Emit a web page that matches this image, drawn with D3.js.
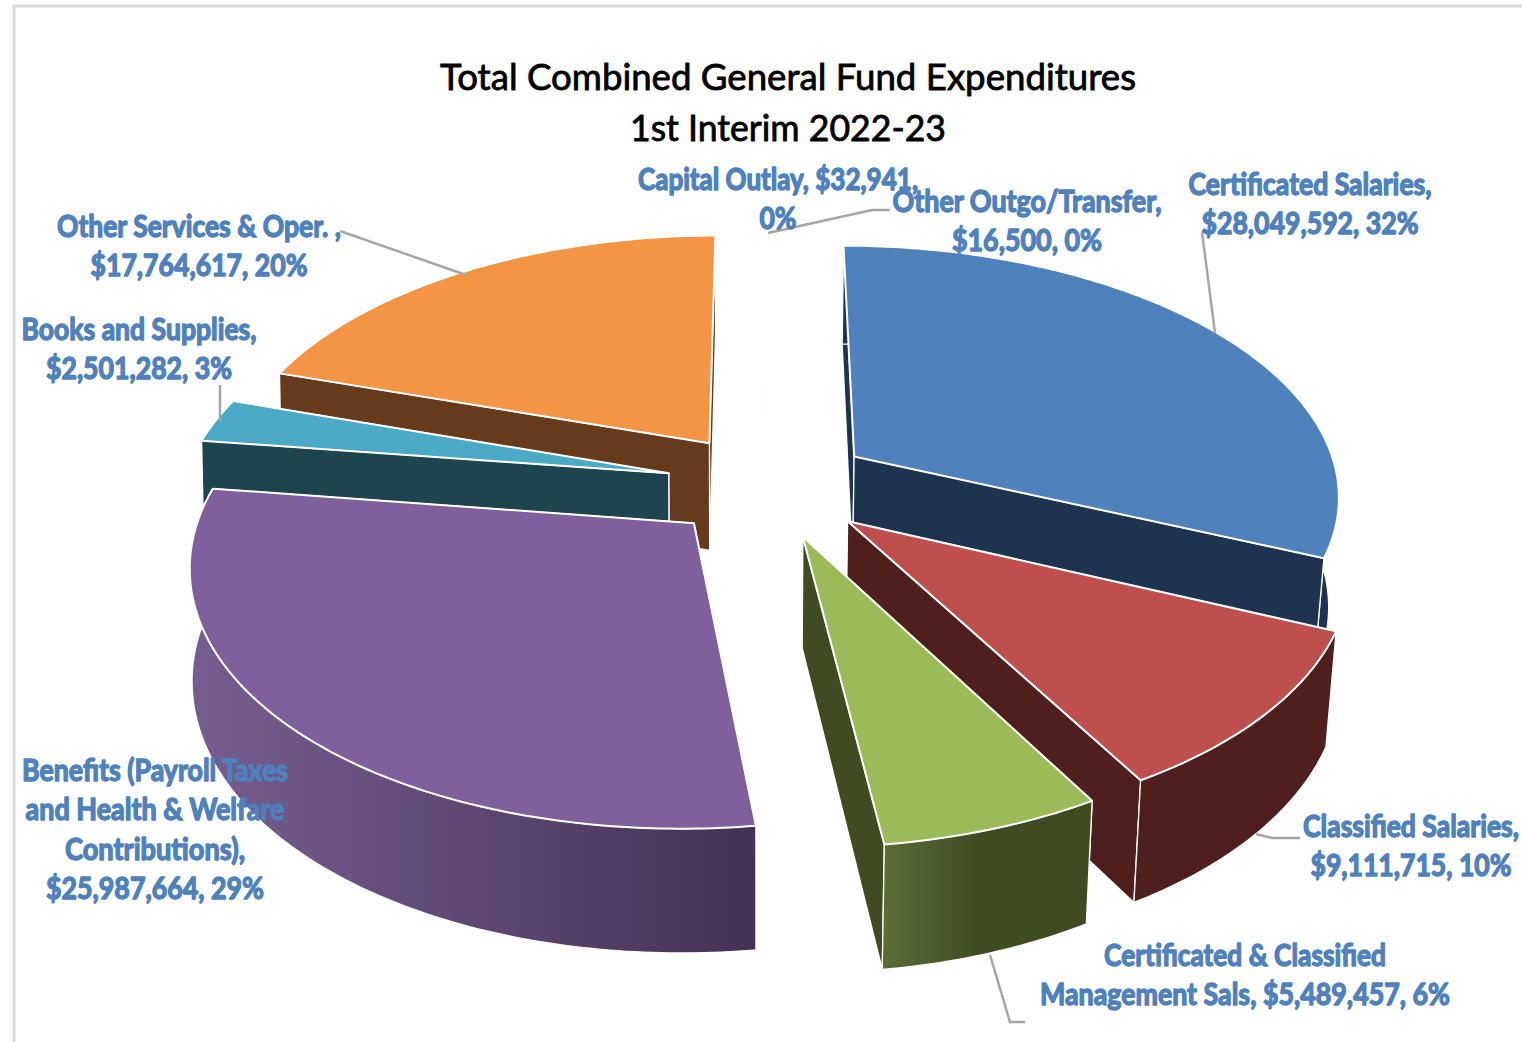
<!DOCTYPE html>
<html>
<head>
<meta charset="utf-8">
<style>
  html, body { margin: 0; padding: 0; background: #fff; }
  svg { display: block; }
  text { font-family: Lato, "Open Sans", sans-serif; paint-order: stroke; stroke-linejoin: round; }
</style>
<script src="https://cdn.jsdelivr.net/npm/d3@7/dist/d3.min.js"></script>
</head>
<body>
<svg id="chart" width="1522" height="1042"></svg>
<script>
// Budget categories, in the order they run clockwise around the pie
const categories = [
  "Certificated Salaries",
  "Classified Salaries",
  "Certificated & Classified Management Sals",
  "Benefits (Payroll Taxes and Health & Welfare Contributions)",
  "Books and Supplies",
  "Other Services & Oper. ",
  "Capital Outlay",
  "Other Outgo/Transfer"
];
const amounts = [28049592, 9111715, 5489457, 25987664, 2501282, 17764617, 32941, 16500];
const wordsPerLine = [[2, 2], [2, 2], [3, 4], [3, 4, 1, 2], [3, 2], [5, 2], [3, 1], [2, 2]];
const titleLines = ["Total Combined General Fund Expenditures", "1st Interim 2022-23"];

// Slice colours: top face, then the shaded side walls (left and right ends of the gradient)
const topColors = ["#4f81bd", "#bf4f4c", "#9bbb59", "#7f609c", "#4aa9c4", "#f39545", "#f39545", "#4f81bd"];
const wallLeft  = ["#1e3350", "#4f1f1e", "#5c6e36", "#775e92", "#1e444f", "#653b1c", "#653b1c", "#1e3350"];
const wallRight = ["#1e3350", "#4f1f1e", "#3f4c22", "#443253", "#1e444f", "#653b1c", "#653b1c", "#1e3350"];

// Label placement: centre x, first baseline, rendered width of each line
const labelX = [1310, 1411, 1245, 155, 139, 199, 778, 1027];
const labelY = [195, 837, 966, 781, 340, 237, 190, 212];
const labelWidths = [
  [243, 217], [216, 201], [282, 410], [266, 259, 180, 218],
  [235, 186], [284, 217], [280, 37], [269, 150]
];
const leaders = [
  [[1202, 232], [1215, 333]],
  [[1300, 838], [1272, 838], [1256, 834]],
  [[1025, 1022], [1010, 1022], [990, 955]],
  [[220, 385], [220, 421]],
  [[340, 231], [466, 275]],
  [[890, 210], [872, 210], [768, 233]]
];

// Perspective projection of the pie's ground plane on to the page
const view = {
  cx: 769, cy: 485, rx: 486, ry: 249, persp: 0.145,
  depth: 109, depthFalloff: 0.7, convergeRight: 0.982, convergeLeft: 0.996, explode: 0.213
};

const scale = y => 1 / (1 + view.persp * y);
const topPoint = ([x, y]) => [view.cx + view.rx * x * scale(y), view.cy - view.ry * y * scale(y)];
const basePoint = ([x, y]) => {
  const [sx, sy] = topPoint([x, y]);
  const q = sx > view.cx ? view.convergeRight : view.convergeLeft;
  return [view.cx + (sx - view.cx) * q, sy + view.depth * (1 + view.depthFalloff * (scale(y) - 1))];
};

const svg = d3.select("#chart");
const defs = svg.append("defs");
const line = d3.line();
const closed = pts => line(pts) + "Z";

// Frame along the top and left of the chart area
svg.append("path")
  .attr("d", line([[14, 1042], [14, 6], [1522, 6]]))
  .attr("fill", "none").attr("stroke", "#d9d9d9").attr("stroke-width", 3);

const total = d3.sum(amounts);
const pie = d3.pie().sort(null).startAngle(0).endAngle(2 * Math.PI);
const arcs = pie(amounts).map((d, i) => {
  const mid = (d.startAngle + d.endAngle) / 2;
  const ox = view.explode * Math.sin(mid), oy = view.explode * Math.cos(mid);
  const rim = [];
  const steps = Math.max(1, Math.ceil((d.endAngle - d.startAngle) / 0.015));
  for (let k = 0; k <= steps; k++) {
    const a = d.startAngle + (d.endAngle - d.startAngle) * k / steps;
    rim.push([ox + Math.sin(a), oy + Math.cos(a)]);
  }
  return { i, mid, apex: [ox, oy], rim, depthKey: oy + 0.6 * Math.cos(mid) };
});

wallLeft.forEach((c, i) => {
  const g = defs.append("linearGradient").attr("id", "wall" + i);
  g.append("stop").attr("offset", "0%").attr("stop-color", c);
  g.append("stop").attr("offset", i === 2 ? "45%" : "100%").attr("stop-color", wallRight[i]);
});

const meanY = pts => d3.mean(pts, p => p[1]);
const wallPath = ground => closed(ground.map(topPoint).concat(ground.slice().reverse().map(basePoint)));

// Paint slices from the back of the pie to the front, walls before the top face
const ordered = arcs.slice().sort((a, b) => d3.descending(a.depthKey, b.depthKey));
const sliceGroups = svg.selectAll("g.slice").data(ordered).join("g").attr("class", "slice");

sliceGroups.each(function (s) {
  const g = d3.select(this);
  const first = s.rim[0], last = s.rim[s.rim.length - 1];
  const walls = [
    { ground: [s.apex, first], fill: wallRight[s.i] },
    { ground: [s.apex, last], fill: wallRight[s.i] },
    { ground: s.rim, fill: `url(#wall${s.i})` }
  ].sort((a, b) => d3.descending(meanY(a.ground), meanY(b.ground)));
  walls.forEach(w => {
    g.append("path").attr("d", wallPath(w.ground)).attr("fill", w.fill)
      .attr("stroke", "#fff").attr("stroke-width", 1.3).attr("stroke-linejoin", "round");
  });
  g.append("path").attr("d", closed([s.apex].concat(s.rim).map(topPoint)))
    .attr("fill", topColors[s.i])
    .attr("stroke", "#fff").attr("stroke-width", 2).attr("stroke-linejoin", "round");
});

// Leader lines
svg.selectAll("path.leader").data(leaders).join("path").attr("class", "leader")
  .attr("d", d => line(d)).attr("fill", "none")
  .attr("stroke", "#a6a6a6").attr("stroke-width", 2.5);

// Title
svg.selectAll("text.title").data(titleLines).join("text").attr("class", "title")
  .attr("x", 788).attr("y", (d, i) => 90 + i * 51)
  .attr("text-anchor", "middle").attr("fill", "#000")
  .attr("stroke", "#000").attr("stroke-width", 0.8)
  .attr("font-size", 36)
  .attr("textLength", (d, i) => [696, 316][i]).attr("lengthAdjust", "spacingAndGlyphs")
  .text(d => d);

// Data labels: "<category>, $<amount>, <percent>" broken over several lines
const money = d3.format("$,");
const percent = d3.format(".0%");
const labelLines = amounts.map((v, i) => {
  const words = `${categories[i]}, ${money(v)}, ${percent(v / total)}`.split(" ");
  let at = 0;
  return wordsPerLine[i].map(n => { const part = words.slice(at, at + n).join(" "); at += n; return part; });
});

labelLines.forEach((lines, i) => {
  svg.append("g").selectAll("text").data(lines).join("text")
    .attr("x", labelX[i]).attr("y", (d, k) => labelY[i] + k * 39.3)
    .attr("text-anchor", "middle").attr("fill", "#4f81bd")
    .attr("stroke", "#4f81bd").attr("stroke-width", 1.4)
    .attr("font-size", 30).attr("font-weight", 700)
    .attr("textLength", (d, k) => labelWidths[i][k]).attr("lengthAdjust", "spacingAndGlyphs")
    .text(d => d);
});
</script>
</body>
</html>
